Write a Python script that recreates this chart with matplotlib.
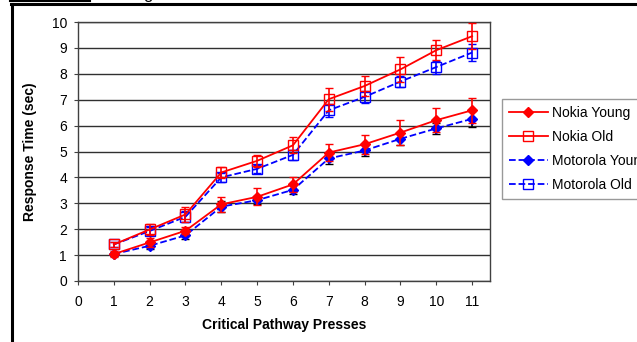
import numpy as np
import matplotlib
matplotlib.use("Agg")
import matplotlib.pyplot as plt
from matplotlib.lines import Line2D

plt.rcParams['font.family'] = ['Liberation Sans', 'DejaVu Sans']

presses = np.arange(1, 12)

nokia_young = [1.04, 1.49, 1.94, 2.96, 3.25, 3.73, 4.96, 5.28, 5.73, 6.21, 6.59]
nokia_young_err = [0.12, 0.18, 0.14, 0.30, 0.33, 0.28, 0.32, 0.36, 0.48, 0.46, 0.48]

nokia_old = [1.41, 1.99, 2.57, 4.19, 4.64, 5.24, 7.02, 7.53, 8.17, 8.91, 9.45]
nokia_old_err = [0.10, 0.20, 0.28, 0.22, 0.22, 0.31, 0.45, 0.37, 0.48, 0.38, 0.51]

moto_young = [1.04, 1.36, 1.76, 2.87, 3.12, 3.52, 4.73, 5.04, 5.49, 5.89, 6.26]
moto_young_err = [0.08, 0.12, 0.12, 0.22, 0.16, 0.18, 0.22, 0.22, 0.24, 0.22, 0.31]

moto_old = [1.41, 1.93, 2.48, 4.00, 4.33, 4.87, 6.59, 7.11, 7.70, 8.26, 8.82]
moto_old_err = [0.08, 0.15, 0.22, 0.18, 0.15, 0.18, 0.25, 0.22, 0.20, 0.25, 0.34]

fig = plt.figure(figsize=(6.37, 3.42), dpi=100)
ax = fig.add_axes([78/637, 1 - 281/342, (490-78)/637, (281-22)/342])

ax.errorbar(presses, nokia_young, yerr=nokia_young_err, color='#ff0000', ecolor='#ff0000',
            marker='D', markersize=5.5, lw=1.3, capsize=3, elinewidth=1.2, label='Nokia Young', zorder=4)
ax.errorbar(presses, nokia_old, yerr=nokia_old_err, color='#ff0000', ecolor='#ff0000',
            marker='s', markersize=7, markerfacecolor='none', lw=1.3, capsize=3, elinewidth=1.2,
            label='Nokia Old', zorder=4)
ax.errorbar(presses, moto_young, yerr=moto_young_err, color='#0000ff', ecolor='#000000',
            marker='D', markersize=5.5, lw=1.3, ls='--', capsize=3, elinewidth=1.2,
            label='Motorola Young', zorder=3)
ax.errorbar(presses, moto_old, yerr=moto_old_err, color='#0000ff', ecolor='#0000ff',
            marker='s', markersize=7, markerfacecolor='none', lw=1.3, ls='--', capsize=3, elinewidth=1.2,
            label='Motorola Old', zorder=3)

ax.set_xlim(0, 11.5)
ax.set_ylim(0, 10)
ax.set_xticks(range(0, 12))
ax.set_yticks(range(0, 11))
ax.yaxis.grid(True, color='#303030', lw=1)
ax.set_axisbelow(True)
ax.tick_params(labelsize=10, length=3, width=0.8, color='#404040', pad=5)
ax.tick_params(axis='x', pad=7)
for s in ax.spines.values():
    s.set_color('#404040')
    s.set_linewidth(1)

ax.set_xlabel('Critical Pathway Presses', fontsize=10, fontweight='bold')
ax.set_ylabel('Response Time (sec)', fontsize=10, fontweight='bold')
ax.xaxis.set_label_coords(0.5, (281 - 318) / 259)
ax.yaxis.set_label_coords((37 - 78) / 412, 0.5)

handles, labels = ax.get_legend_handles_labels()
handles = [h[0] for h in handles]
leg = fig.legend(handles, labels, loc='upper left', bbox_to_anchor=(502/637, 1 - 99/342),
                 fontsize=10, frameon=True, fancybox=False, edgecolor='#808080',
                 handlelength=2.8, labelspacing=0.72, borderpad=0.5, handletextpad=0.3,
                 borderaxespad=0)
leg.get_frame().set_linewidth(1)

# page frame lines
fig.add_artist(Line2D([11/637, 1], [1 - 3.5/342, 1 - 3.5/342], color='black', lw=2.2))
fig.add_artist(Line2D([12/637, 12/637], [0, 1 - 3.5/342], color='black', lw=2.2))
fig.add_artist(Line2D([10/637, 90/637], [1 - 0.5/342, 1 - 0.5/342], color='black', lw=1.5))
fig.text(143/637, 1 + 1.5/342, 'g', fontsize=12, va='baseline', ha='left')

fig.savefig('out.png', dpi=100)
